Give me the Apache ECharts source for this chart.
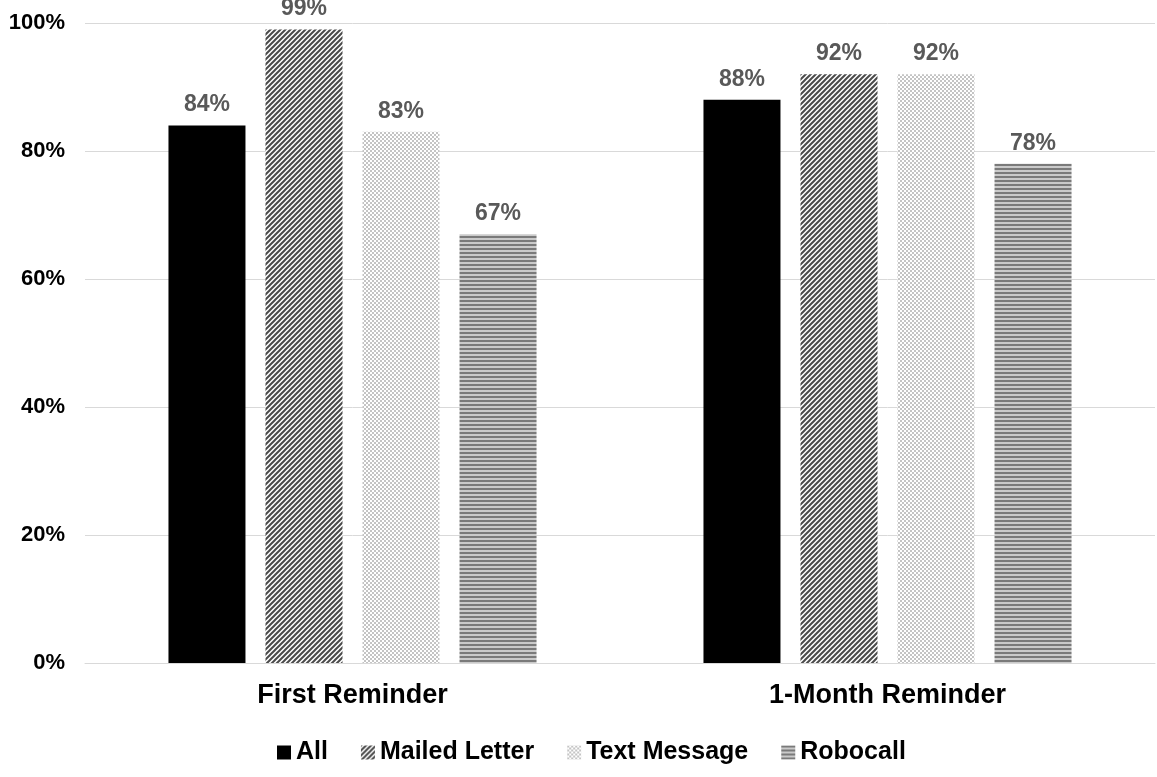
<!DOCTYPE html>
<html><head><meta charset="utf-8">
<script src="https://cdn.jsdelivr.net/npm/echarts@6/dist/echarts.min.js"></script>
<style>html,body{margin:0;padding:0;background:#fff}#c{width:1157px;height:777px}</style>
</head><body><div id="c"></div>
<script>
const categories = ['First Reminder', '1-Month Reminder'];
const seriesNames = ['All', 'Mailed Letter', 'Text Message', 'Robocall'];
const allVals = [84, 88];
const mailedVals = [99, 92];
const textVals = [83, 92];
const roboVals = [67, 78];
const yTicks = [0, 20, 40, 60, 80, 100];

function mk(w, h, draw) {
  const c = document.createElement('canvas');
  c.width = w; c.height = h;
  const g = c.getContext('2d');
  g.fillStyle = '#fff'; g.fillRect(0, 0, w, h);
  draw(g);
  return { image: c, repeat: 'repeat' };
}
const diag = mk(5, 5, g => {
  g.strokeStyle = '#4a4a4a'; g.lineWidth = 2;
  g.beginPath();
  g.moveTo(-1, 6); g.lineTo(6, -1);
  g.moveTo(-1, 1); g.lineTo(1, -1);
  g.moveTo(4, 6); g.lineTo(6, 4);
  g.stroke();
});
const dots = mk(4, 4, g => {
  g.fillStyle = '#c4c4c4';
  g.fillRect(0, 0, 2, 2); g.fillRect(2, 2, 2, 2);
});
const hlines = mk(4, 4, g => {
  g.fillStyle = '#7a7a7a';
  g.fillRect(0, 0, 4, 2);
  g.fillStyle = '#cacaca';
  g.fillRect(0, 2, 4, 2);
});

const fills = ['#000000', diag, dots, hlines];
const vals = [allVals, mailedVals, textVals, roboVals];
const FONT = 'Liberation Sans, Arial, sans-serif';

const chart = echarts.init(document.getElementById('c'), null, { renderer: 'canvas' });
chart.setOption({
  animation: false,
  backgroundColor: '#fff',
  grid: { left: 85, right: 2, top: 23, bottom: 114 },
  legend: {
    bottom: 7, left: 272,
    itemWidth: 14, itemHeight: 14, itemGap: 33,
    icon: 'rect',
    textStyle: { fontFamily: FONT, fontWeight: 'bold', fontSize: 25, color: '#000' },
    data: seriesNames
  },
  xAxis: {
    type: 'category', data: categories,
    axisLine: { lineStyle: { color: '#d9d9d9', width: 1 } },
    axisTick: { show: false },
    axisLabel: { margin: 19, fontFamily: FONT, fontWeight: 'bold', fontSize: 27, color: '#000' }
  },
  yAxis: {
    type: 'value', min: 0, max: 100, interval: 20,
    axisLine: { show: false }, axisTick: { show: false },
    splitLine: { lineStyle: { color: '#d9d9d9', width: 1 } },
    axisLabel: { margin: 20, formatter: v => yTicks.includes(v) ? v + '%' : '', fontFamily: FONT, fontWeight: 'bold', fontSize: 22, color: '#000' }
  },
  series: seriesNames.map((n, i) => ({
    name: n, type: 'bar', data: vals[i],
    barWidth: 77, barGap: '26%',
    itemStyle: { color: fills[i] },
    label: { show: true, position: 'top', distance: 9, formatter: '{c}%', fontFamily: FONT, fontWeight: 'bold', fontSize: 23, color: '#595959' }
  }))
});
</script></body></html>
